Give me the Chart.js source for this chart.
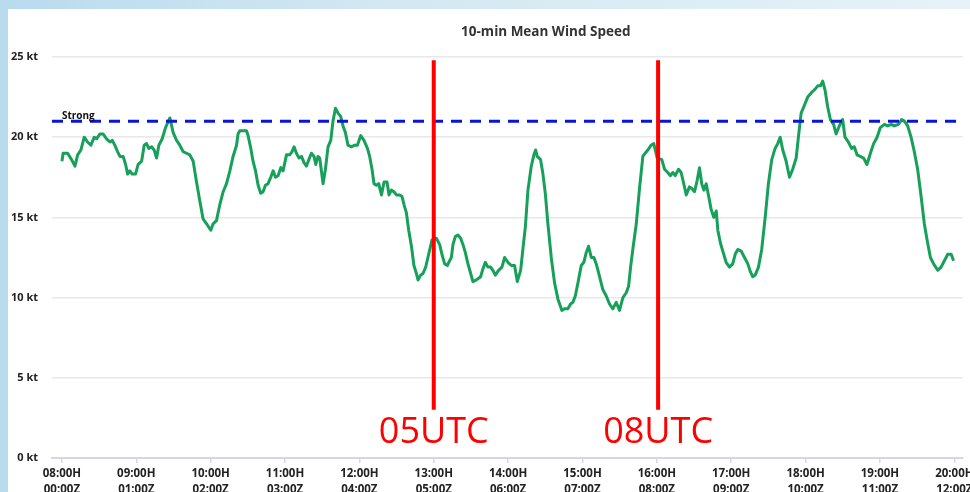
<!DOCTYPE html>
<html>
<head>
<meta charset="utf-8">
<script src="https://cdn.jsdelivr.net/npm/chart.js@4/dist/chart.umd.min.js"></script>
<style>
  html, body { margin: 0; padding: 0; overflow: hidden; }
  body { width: 970px; height: 492px; background: linear-gradient(90deg, #b9dbee 0%, #d3e8f3 40%, #e6f2f8 100%); position: relative; }
  #panel { position: absolute; left: 8px; top: 9px; right: 0; bottom: 0; background: #fff; }
  #wrap { position: absolute; left: 0; top: 0; }
</style>
</head>
<body>
<div id="panel"></div>
<div id="wrap"><canvas id="windChart" width="990" height="500"></canvas></div>
<script>
// minutes after 08:00H (00:00Z)
const minutes = [
  0, 1.0, 4.6, 7.8, 10.5, 12.7, 15.3, 18.0, 20.7, 23.4, 26.0, 28.0, 30.6, 33.3, 36.0, 38.7, 40.6, 42.7, 44.9, 46.8,
  49.4, 51.4, 53.0, 54.8, 56.7, 59.4, 61.5, 64.3, 66.4, 68.3, 70.1, 72.3, 74.4, 76.4, 78.2, 80.9, 83.6, 87.1, 89.7, 92.5,
  95.1, 97.8, 100.5, 103.2, 105.9, 108.6, 111.3, 113.9, 116.7, 120.1, 122.0, 124.7, 127.4, 130.1, 132.8, 135.5, 138.1, 140.9, 142.1, 143.5,
  146.2, 148.9, 150.2, 152.4, 154.2, 156.2, 158.3, 160.4, 162.3, 164.2, 166.3, 168.5, 170.4, 172.3, 174.4, 176.6, 178.4, 181.2, 183.8, 185.7,
  187.3, 189.2, 191.3, 193.3, 195.4, 197.3, 199.2, 201.3, 203.4, 204.8, 206.6, 208.0, 210.7, 212.6, 214.7, 216.9, 218.7, 220.7, 222.8, 224.9,
  226.8, 228.7, 230.8, 233.6, 236.2, 238.4, 241.1, 243.7, 246.5, 248.3, 250.2, 251.8, 253.7, 255.6, 257.8, 259.9, 262.3, 263.9, 265.8, 267.9,
  269.9, 272.5, 274.4, 276.0, 277.9, 279.8, 282.0, 284.0, 286.0, 287.3, 289.4, 291.3, 293.5, 295.9, 298.6, 302.1, 304.8, 306.6, 308.8, 311.0,
  312.8, 314.2, 315.5, 317.4, 319.5, 321.7, 323.6, 325.5, 327.6, 329.8, 331.6, 334.4, 337.8, 339.7, 341.6, 343.7, 345.9, 347.7, 349.7, 352.3,
  355.0, 357.2, 359.8, 362.6, 365.2, 367.4, 370.1, 371.9, 373.9, 376.0, 378.7, 380.8, 382.2, 383.5, 386.2, 388.1, 390.0, 392.1, 394.8, 397.5,
  400.2, 403.4, 405.5, 408.2, 410.4, 412.2, 414.2, 416.3, 419.0, 421.1, 423.0, 424.9, 427.1, 429.2, 431.1, 433.8, 436.4, 439.2, 441.8, 444.5,
  447.2, 449.9, 452.6, 455.3, 457.2, 458.8, 460.6, 463.4, 466.0, 468.7, 470.6, 472.7, 475.4, 477.5, 480.3, 484.0, 486.2, 488.8, 491.0, 492.9,
  494.8, 497.5, 499.6, 501.7, 503.7, 506.3, 508.2, 510.4, 512.5, 514.4, 516.2, 517.9, 519.8, 521.6, 523.8, 525.9, 527.9, 529.2, 531.3, 533.2,
  535.9, 538.6, 541.2, 543.2, 545.3, 548.0, 550.7, 553.4, 555.5, 557.4, 559.3, 562.0, 564.6, 567.4, 570.0, 572.7, 575.4, 577.5, 579.5, 581.6,
  584.3, 587.0, 589.6, 592.4, 594.2, 596.4, 599.1, 601.7, 605.0, 607.7, 609.8, 612.0, 613.8, 615.8, 617.8, 620.0, 622.6, 624.6, 627.2, 629.9,
  631.8, 634.5, 637.1, 639.3, 641.5, 644.1, 646.8, 649.5, 652.3, 654.9, 657.7, 660.3, 663.6, 666.2, 669.0, 671.6, 674.9, 677.5, 679.7, 682.4,
  685.1, 687.7, 690.4, 693.2, 695.8, 698.0, 700.7, 703.3, 706.6, 709.3, 712.0, 714.7, 717.5, 719.4
];
const windKt = [
  18.5, 19.0, 19.0, 18.6, 18.2, 18.9, 19.2, 20.0, 19.7, 19.5, 20.0, 19.9, 20.2, 20.2, 19.9, 19.7, 19.8, 19.5, 19.1, 18.8,
  18.8, 18.3, 17.7, 17.9, 17.7, 17.7, 18.3, 18.5, 19.5, 19.6, 19.3, 19.4, 19.2, 18.7, 19.5, 19.9, 20.6, 21.2, 20.3, 19.8,
  19.5, 19.1, 19.0, 18.9, 18.5, 17.2, 16.0, 14.9, 14.6, 14.2, 14.6, 14.8, 15.8, 16.6, 17.1, 17.9, 18.8, 19.5, 20.2, 20.4,
  20.4, 20.4, 20.1, 19.3, 18.5, 17.9, 17.0, 16.5, 16.6, 17.0, 17.1, 17.5, 17.9, 17.5, 17.6, 18.1, 17.9, 18.9, 18.9, 19.1,
  19.4, 19.0, 18.7, 18.8, 18.4, 18.2, 18.6, 19.0, 18.8, 18.3, 18.8, 18.7, 17.1, 18.0, 19.4, 19.8, 21.0, 21.8, 21.5, 21.3,
  20.7, 20.3, 19.5, 19.4, 19.5, 19.5, 20.1, 19.8, 19.3, 18.8, 18.0, 17.1, 17.0, 17.1, 16.4, 17.2, 17.2, 16.4, 16.7, 16.6,
  16.4, 16.4, 16.3, 15.8, 15.3, 14.2, 13.2, 12.0, 11.5, 11.1, 11.4, 11.5, 11.9, 12.7, 13.6, 13.7, 13.3, 12.7, 12.1, 12.0,
  12.3, 12.5, 13.3, 13.8, 13.9, 13.7, 13.3, 12.8, 12.1, 11.5, 11.0, 11.1, 11.3, 11.8, 12.2, 11.9, 11.9, 11.7, 11.4, 11.7,
  11.9, 12.5, 12.2, 12.0, 12.0, 11.0, 11.7, 13.0, 14.4, 16.7, 18.2, 18.9, 19.2, 18.8, 18.6, 17.7, 16.5, 14.6, 12.5, 10.9,
  9.9, 9.2, 9.3, 9.3, 9.6, 9.7, 10.1, 10.9, 12.0, 12.2, 12.8, 13.2, 12.5, 12.5, 12.1, 11.3, 10.5, 10.1, 9.6, 9.3,
  9.7, 9.2, 10.0, 10.3, 10.7, 11.9, 13.0, 14.6, 16.8, 18.8, 19.0, 19.2, 19.5, 19.6, 18.7, 18.6, 18.0, 17.8, 17.6, 17.8,
  17.6, 18.0, 17.8, 17.1, 16.4, 16.9, 16.8, 16.6, 17.3, 18.1, 17.1, 16.7, 17.1, 16.4, 15.5, 15.0, 15.4, 14.2, 13.4, 12.9,
  12.2, 11.9, 12.1, 12.7, 13.0, 12.9, 12.5, 12.1, 11.6, 11.3, 11.4, 11.9, 13.0, 15.0, 17.1, 18.6, 19.3, 19.6, 20.0, 19.2,
  18.5, 17.5, 18.0, 18.7, 20.0, 21.5, 22.0, 22.5, 22.8, 23.0, 23.2, 23.2, 23.5, 22.9, 21.9, 21.1, 20.8, 20.2, 20.7, 21.1,
  20.0, 19.7, 19.3, 19.4, 18.9, 18.8, 18.7, 18.3, 19.0, 19.6, 20.0, 20.6, 20.8, 20.7, 20.8, 20.7, 20.8, 21.1, 21.0, 20.7,
  20.0, 19.1, 18.0, 16.3, 14.6, 13.6, 12.5, 12.1, 11.7, 11.9, 12.3, 12.7, 12.7, 12.3
];

const tickMinutes = [0, 60, 120, 180, 240, 300, 360, 420, 480, 540, 600, 660, 720];
const hourLabels = ['08:00H', '09:00H', '10:00H', '11:00H', '12:00H', '13:00H', '14:00H', '15:00H', '16:00H', '17:00H', '18:00H', '19:00H', '20:00H'];
const zuluLabels = ['00:00Z', '01:00Z', '02:00Z', '03:00Z', '04:00Z', '05:00Z', '06:00Z', '07:00Z', '08:00Z', '09:00Z', '10:00Z', '11:00Z', '12:00Z'];

const strongKt = 21;
const markerLabels = ['05UTC', '08UTC'];
const markerMinutes = [300, 481];
const markerTopKt = 24.8;
const markerBottomKt = 3.0;

const xMin = -8, xMax = 727;

const overlay = {
  id: 'overlay',
  afterDatasetsDraw(chart) {
    const { ctx, chartArea, scales: { x, y } } = chart;
    ctx.save();
    // threshold label
    ctx.fillStyle = '#111';
    ctx.font = 'bold 10px "Open Sans"';
    ctx.textAlign = 'left';
    ctx.textBaseline = 'alphabetic';
    ctx.fillText('Strong', x.getPixelForValue(0), y.getPixelForValue(strongKt) - 2);
    // red UTC markers
    ctx.strokeStyle = '#ff0000';
    ctx.fillStyle = '#ff0000';
    ctx.lineWidth = 4;
    ctx.font = '36px "Open Sans"';
    ctx.textAlign = 'center';
    ctx.textBaseline = 'middle';
    markerMinutes.forEach((m, i) => {
      const px = x.getPixelForValue(m);
      ctx.beginPath();
      ctx.moveTo(px, y.getPixelForValue(markerTopKt));
      ctx.lineTo(px, y.getPixelForValue(markerBottomKt));
      ctx.stroke();
      ctx.fillText(markerLabels[i], px, y.getPixelForValue(1.6));
    });
    // title
    ctx.fillStyle = '#333';
    ctx.font = 'bold 13.5px "Open Sans"';
    ctx.fillText('10-min Mean Wind Speed', chartArea.left + chartArea.width * 0.542, chartArea.top - 25);
    ctx.restore();
  }
};

new Chart(document.getElementById('windChart'), {
  type: 'line',
  data: {
    datasets: [
      {
        label: 'Strong',
        data: [{ x: xMin, y: strongKt }, { x: xMax, y: strongKt }],
        borderColor: '#0a14d6',
        borderWidth: 3,
        borderDash: [11, 8],
        pointRadius: 0,
        order: 0,
      },
      {
        label: '10-min Mean Wind Speed',
        data: minutes.map((m, i) => ({ x: m, y: windKt[i] })),
        borderColor: '#17a05a',
        borderWidth: 3,
        borderJoinStyle: 'round',
        tension: 0,
        pointRadius: 0,
        order: 1,
      },
    ],
  },
  options: {
    responsive: false,
    animation: false,
    devicePixelRatio: 1,
    layout: { padding: { top: 57, right: 27, left: 0, bottom: 0 } },
    plugins: { legend: { display: false }, tooltip: { enabled: false }, title: { display: false } },
    scales: {
      x: {
        type: 'linear',
        min: xMin,
        max: xMax,
        afterBuildTicks: (axis) => { axis.ticks = tickMinutes.map((v) => ({ value: v })); },
        grid: { drawOnChartArea: false, drawTicks: true, tickLength: 5, color: '#d6d6e6', lineWidth: 1.5 },
        border: { color: '#d6d6e6', width: 2 },
        ticks: {
          maxRotation: 0,
          autoSkip: false,
          padding: 3,
          color: '#222',
          font: { family: 'Open Sans', size: 11.5, weight: 'bold', lineHeight: 1.35 },
          callback: (v) => {
            const i = tickMinutes.indexOf(v);
            return i < 0 ? '' : [hourLabels[i], zuluLabels[i]];
          },
        },
      },
      y: {
        min: 0,
        max: 25,
        afterFit: (s) => { s.width = 52; },
        grid: { drawTicks: false, color: '#e8e8e8', lineWidth: 1.5 },
        border: { display: false },
        ticks: {
          stepSize: 5,
          padding: 14,
          color: '#222',
          font: { family: 'Open Sans', size: 11, weight: 'bold' },
          callback: (v) => v + ' kt',
        },
      },
    },
  },
  plugins: [overlay],
});
</script>
</body>
</html>
